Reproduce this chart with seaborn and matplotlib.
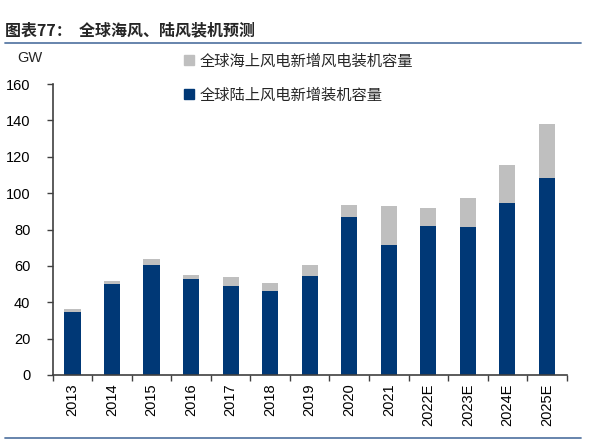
import matplotlib
matplotlib.use("Agg")
import matplotlib.pyplot as plt
import matplotlib.lines as mlines
import seaborn as sns
import pandas as pd
import numpy as np

years = ["2013", "2014", "2015", "2016", "2017", "2018", "2019", "2020",
         "2021", "2022E", "2023E", "2024E", "2025E"]
onshore = [34.7, 50.3, 60.7, 52.8, 49.2, 46.4, 54.5, 87.1, 71.6, 82.0, 81.6, 94.7, 108.1]
offshore = [1.5, 1.4, 3.2, 2.2, 4.6, 4.4, 6.2, 6.1, 21.2, 9.9, 15.8, 20.9, 29.9]
yticks = [0, 20, 40, 60, 80, 100, 120, 140, 160]

title = "图表77：  全球海风、陆风装机预测"
label_off = "全球海上风电新增风电装机容量"
label_on = "全球陆上风电新增装机容量"
unit = "GW"

navy = "#003876"
gray = "#BFBFBF"

sns.set_theme(style="white")
plt.rcParams['font.family'] = ['Liberation Sans', 'Noto Sans CJK SC', 'DejaVu Sans']

df = pd.DataFrame({"year": years, "onshore": onshore, "offshore": offshore})
df["total"] = df["onshore"] + df["offshore"]

fig = plt.figure(figsize=(6.06, 4.43), dpi=100)
ax = fig.add_axes([52.7 / 606, 68 / 443, 514 / 606, 291 / 443])

sns.barplot(data=df, x="year", y="total", color=gray, width=0.41, ax=ax,
            saturation=1, edgecolor="none")
sns.barplot(data=df, x="year", y="onshore", color=navy, width=0.41, ax=ax,
            saturation=1, edgecolor="none")

ax.set_xlim(-0.5, len(years) - 0.5)
ax.set_ylim(0, 160)
ax.set_yticks(yticks)
ax.set_yticklabels([str(v) for v in yticks], fontsize=10.5, color="black")
ax.set_xticks(range(len(years)))
ax.set_xticklabels(years, rotation=90, fontsize=10.5, color="black")
ax.set_xticks(np.arange(-0.5, len(years)), minor=True)
ax.tick_params(axis="x", which="major", length=0, pad=6)
ax.tick_params(axis="x", which="minor", length=4, width=1, color="#404040", direction="out", bottom=True)
ax.tick_params(axis="y", which="major", length=4, width=1, color="#404040", direction="out", left=True, pad=12)
ax.set_xlabel("")
ax.set_ylabel("")
for s in ["top", "right"]:
    ax.spines[s].set_visible(False)
for s in ["left", "bottom"]:
    ax.spines[s].set_color("#404040")
    ax.spines[s].set_linewidth(1.2)

# header / footer lines
fig.add_artist(mlines.Line2D([5 / 606, 581 / 606], [1 - 43 / 443, 1 - 43 / 443],
                             color="#5B7BA6", linewidth=1.3))
fig.add_artist(mlines.Line2D([5 / 606, 581 / 606], [1 - 438 / 443, 1 - 438 / 443],
                             color="#5B7BA6", linewidth=1.3))

fig.text(5 / 606, 1 - 30 / 443, title, fontsize=11.5, fontweight="bold",
         va="center", ha="left", family=['Noto Sans CJK SC', 'DejaVu Sans'])
fig.text(30 / 606, 1 - 58 / 443, unit, fontsize=10.5, va="center", ha="center")

h_off = mlines.Line2D([], [], marker="s", color=gray, linestyle="none", markersize=7)
h_on = mlines.Line2D([], [], marker="s", color=navy, linestyle="none", markersize=7)
leg = fig.legend([h_off, h_on], [label_off, label_on], loc="upper left",
                 bbox_to_anchor=(168 / 606, 1 - 39 / 443), frameon=False,
                 prop={"family": ['Noto Sans CJK SC'], "size": 11},
                 handletextpad=0.2, labelspacing=1.1, handlelength=1.0)

fig.savefig("out.png", dpi=100)
